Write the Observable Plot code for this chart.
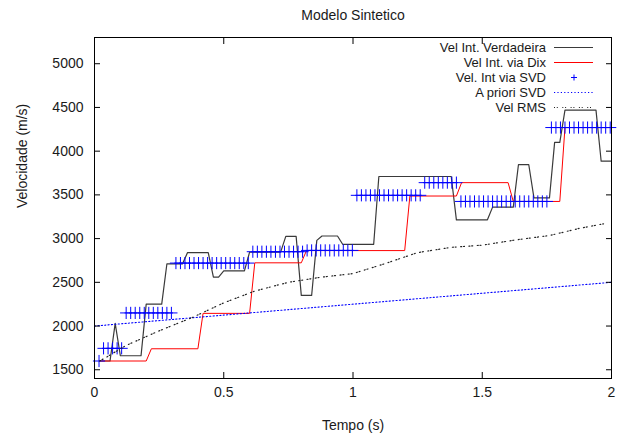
<!DOCTYPE html>
<html>
<head>
<meta charset="utf-8">
<script src="https://cdn.jsdelivr.net/npm/d3@7"></script>
<script src="https://cdn.jsdelivr.net/npm/@observablehq/plot@0.6"></script>
<style>
html, body { margin: 0; padding: 0; background: #fff; }
#chart { width: 623px; height: 434px; }
</style>
</head>
<body>
<div id="chart"></div>
<script>
// ---- Data ----
const trueT = [0.02, 0.06, 0.08, 0.10, 0.18, 0.20, 0.26, 0.28, 0.34, 0.36, 0.44, 0.46, 0.48, 0.50, 0.58, 0.60, 0.72, 0.74, 0.78, 0.80, 0.84, 0.86, 0.88, 0.94, 0.96, 1.08, 1.10, 1.38, 1.40, 1.52, 1.54, 1.62, 1.64, 1.68, 1.70, 1.76, 1.78, 1.80, 1.82, 1.94, 1.96, 2.00];
const trueV = [1600, 1600, 2030, 1660, 1660, 2250, 2250, 2710, 2710, 2840, 2840, 2560, 2560, 2630, 2630, 2845, 2845, 3025, 3025, 2350, 2350, 2980, 3030, 3030, 2935, 2935, 3710, 3710, 3215, 3215, 3360, 3360, 3845, 3845, 3465, 3465, 4100, 4100, 4470, 4470, 3885, 3885];

const dixT = [0.02, 0.20, 0.22, 0.40, 0.42, 0.60, 0.62, 0.80, 0.82, 1.20, 1.22, 1.40, 1.42, 1.60, 1.62, 1.80, 1.82, 2.00];
const dixV = [1600, 1600, 1740, 1740, 2145, 2145, 2723, 2723, 2863, 2863, 3487, 3487, 3640, 3640, 3425, 3425, 4270, 4270];

const svdT = [
  0.0175, 0.035, 0.0525, 0.07, 0.0875, 0.105, 0.1225, 0.14, 0.1575, 0.175,
  0.1925, 0.21, 0.2275, 0.245, 0.2625, 0.28, 0.2975, 0.315, 0.3325, 0.35,
  0.3675, 0.385, 0.4025, 0.42, 0.4375, 0.455, 0.4725, 0.49, 0.5075, 0.525,
  0.5425, 0.56, 0.5775, 0.595, 0.6125, 0.63, 0.6475, 0.665, 0.6825, 0.7,
  0.7175, 0.735, 0.7525, 0.77, 0.7875, 0.805, 0.8225, 0.84, 0.8575, 0.875,
  0.8925, 0.91, 0.9275, 0.945, 0.9625, 0.98, 0.9975, 1.015, 1.0325, 1.05,
  1.0675, 1.085, 1.1025, 1.12, 1.1375, 1.155, 1.1725, 1.19, 1.2075, 1.225,
  1.2425, 1.26, 1.2775, 1.295, 1.3125, 1.33, 1.3475, 1.365, 1.3825, 1.4,
  1.4175, 1.435, 1.4525, 1.47, 1.4875, 1.505, 1.5225, 1.54, 1.5575, 1.575,
  1.5925, 1.61, 1.6275, 1.645, 1.6625, 1.68, 1.6975, 1.715, 1.7325, 1.75,
  1.7675, 1.785, 1.8025, 1.82, 1.8375, 1.855, 1.8725, 1.89, 1.9075, 1.925,
  1.9425, 1.96, 1.9775, 1.995
];
const svdV = [
  1600, 1745, 1745, 1745, 1745, 1745, 2150, 2150, 2150, 2150,
  2150, 2150, 2150, 2150, 2150, 2150, 2150, 2720, 2720, 2720,
  2720, 2720, 2720, 2720, 2720, 2720, 2720, 2720, 2720, 2720,
  2720, 2720, 2720, 2720, 2850, 2850, 2850, 2850, 2850, 2850,
  2850, 2850, 2850, 2850, 2850, 2850, 2865, 2865, 2865, 2865,
  2865, 2865, 2865, 2865, 2865, 2865, 2865, 3495, 3495, 3495,
  3495, 3495, 3495, 3495, 3495, 3495, 3495, 3495, 3495, 3495,
  3495, 3495, 3640, 3640, 3640, 3640, 3640, 3640, 3640, 3640,
  3425, 3425, 3425, 3425, 3425, 3425, 3425, 3425, 3425, 3425,
  3425, 3425, 3425, 3425, 3425, 3425, 3425, 3425, 3425, 3425,
  4270, 4270, 4270, 4270, 4270, 4270, 4270, 4270, 4270, 4270,
  4270, 4270, 4270, 4270
];

const prioriT = [0, 2];
const prioriV = [2000, 2500];

const rmsT = [0.02, 0.044, 0.12, 0.25, 0.38, 0.50, 0.62, 0.75, 0.88, 1.00, 1.12, 1.25, 1.38, 1.50, 1.63, 1.76, 1.88, 1.98];
const rmsV = [1600, 1640, 1775, 1945, 2100, 2265, 2400, 2500, 2560, 2600, 2710, 2840, 2900, 2925, 2985, 3035, 3120, 3175];

const xTicks = [0, 0.5, 1, 1.5, 2];
const yTicks = [1500, 2000, 2500, 3000, 3500, 4000, 4500, 5000];

const titleText = "Modelo Sintetico";
const xLabel = "Tempo (s)";
const yLabel = "Velocidade (m/s)";
const legendLabels = ["Vel Int. Verdadeira", "Vel Int. via Dix", "Vel. Int via SVD", "A priori SVD", "Vel RMS"];

// ---- Build ----
const zip = (T, V) => T.map((t, i) => ({t, v: V[i]}));
const trueData = zip(trueT, trueV);
const dixData = zip(dixT, dixV);
const svdData = zip(svdT, svdV);
const prioriData = zip(prioriT, prioriV);
const rmsData = zip(rmsT, rmsV);

const FONT = "'Liberation Sans', Arial, Helvetica, sans-serif";
const W = 623, H = 434, mL = 94, mR = 12, mT = 37, mB = 56;
const TXT = "#1a1a1a";
const BLUE = "#0000ff", RED = "#ff0000", DARK = "#3a3a3a";
const PRIORI_DASH = "1.2,2.2";
const RMS_DASH = "1,1.8,1,4.5";

const plot = Plot.plot({
  width: W, height: H,
  marginLeft: mL, marginRight: mR, marginTop: mT, marginBottom: mB,
  style: {fontFamily: FONT, fontSize: "14px", color: TXT, background: "#fff"},
  x: {domain: [0, 2]},
  y: {domain: [1400, 5300]},
  marks: [
    Plot.line(trueData, {x: "t", y: "v", stroke: DARK, strokeWidth: 1.2}),
    Plot.line(dixData, {x: "t", y: "v", stroke: RED, strokeWidth: 1}),
    Plot.dot(svdData, {x: "t", y: "v", symbol: "plus", r: 4, stroke: BLUE, strokeWidth: 1}),
    Plot.line(prioriData, {x: "t", y: "v", stroke: BLUE, strokeWidth: 1.1, strokeDasharray: PRIORI_DASH}),
    Plot.line(rmsData, {x: "t", y: "v", stroke: "#222", strokeWidth: 1.2, strokeDasharray: RMS_DASH}),
    Plot.frame({stroke: "#000", strokeWidth: 1}),
    // tick labels
    Plot.axisY(yTicks, {anchor: "left", tickSize: 0, tickPadding: 11, label: null, tickFormat: d => String(d)}),
    Plot.axisX(xTicks, {anchor: "bottom", tickSize: 0, tickPadding: 9, label: null, tickFormat: d => String(d)}),
    // inward ticks (mirrored)
    Plot.axisY(yTicks, {anchor: "left", tickSize: -6, fill: "none", stroke: "#000", label: null}),
    Plot.axisY(yTicks, {anchor: "right", tickSize: -6, fill: "none", stroke: "#000", label: null}),
    Plot.axisX(xTicks, {anchor: "bottom", tickSize: -6, fill: "none", stroke: "#000", label: null}),
    Plot.axisX(xTicks, {anchor: "top", tickSize: -6, fill: "none", stroke: "#000", label: null}),
    // titles
    Plot.text([titleText], {text: d => d, frameAnchor: "top", dy: -22, lineAnchor: "middle", fill: TXT, fontSize: 14}),
    Plot.text([xLabel], {text: d => d, frameAnchor: "bottom", dy: 47, lineAnchor: "middle", fill: TXT, fontSize: 14}),
    Plot.text([yLabel], {text: d => d, frameAnchor: "left", dx: -72, rotate: -90, lineAnchor: "middle", fill: TXT, fontSize: 14})
  ]
});

// ---- Legend (inside the frame, top right) ----
const svg = d3.select(plot);
const lg = svg.append("g").attr("font-family", FONT).attr("font-size", 13);
const xr = W - mR;
const legendStyles = [
  {kind: "line", stroke: DARK, width: 1.2, dash: null},
  {kind: "line", stroke: RED, width: 1, dash: null},
  {kind: "plus", stroke: BLUE},
  {kind: "line", stroke: BLUE, width: 1.1, dash: PRIORI_DASH},
  {kind: "line", stroke: "#222", width: 1.2, dash: RMS_DASH}
];
legendLabels.forEach((lab, i) => {
  const y = mT + 10.5 + i * 15;
  lg.append("text").attr("x", xr - 65).attr("y", y).attr("dy", "0.35em")
    .attr("text-anchor", "end").attr("fill", TXT).text(lab);
  const s = legendStyles[i];
  if (s.kind === "line") {
    const l = lg.append("line").attr("x1", xr - 57).attr("x2", xr - 18).attr("y1", y).attr("y2", y)
      .attr("stroke", s.stroke).attr("stroke-width", s.width);
    if (s.dash) l.attr("stroke-dasharray", s.dash);
  } else {
    lg.append("path").attr("transform", `translate(${xr - 37},${y})`)
      .attr("d", "M-3,0H3M0,-3V3").attr("stroke", s.stroke).attr("fill", "none");
  }
});

document.getElementById("chart").appendChild(plot);
</script>
</body>
</html>
